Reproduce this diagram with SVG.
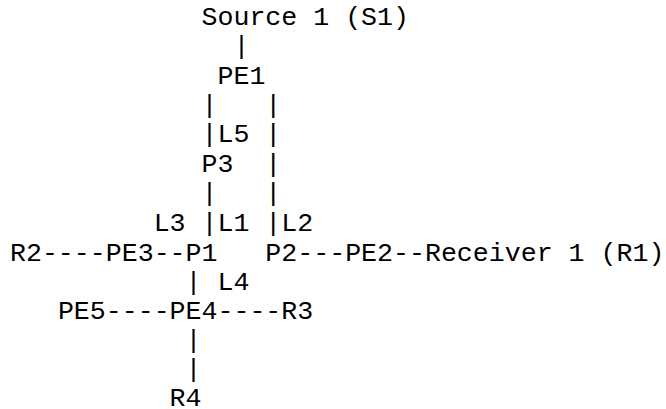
<svg xmlns="http://www.w3.org/2000/svg" width="666" height="409" viewBox="0 0 666 409">
<style>
text{font-family:"Liberation Mono","Courier New",monospace;font-size:26.6px;fill:#000;white-space:pre}
</style>
<rect width="666" height="409" fill="#fff"/>
<g id="connectors">
<text x="233.44" y="54.3">|</text>
<text x="201.52" y="112.9">|</text><text x="265.36" y="112.9">|</text>
<text x="201.52" y="142.2">|</text><text x="265.36" y="142.2">|</text>
<text x="265.36" y="171.5">|</text>
<text x="201.52" y="200.8">|</text><text x="265.36" y="200.8">|</text>
<text x="201.52" y="230.5">|</text><text x="265.36" y="230.5">|</text>
<text x="41.92" y="260.5">----</text>
<text x="153.64" y="260.5">--</text>
<text x="297.28" y="260.5">---</text>
<text x="393.04" y="260.5">--</text>
<text x="185.56" y="289.8">|</text>
<text x="105.76" y="319">----</text>
<text x="217.48" y="319">----</text>
<text x="185.56" y="348">|</text>
<text x="185.56" y="377">|</text>
<g id="labels">
<text x="217.48" y="142.2">L5</text>
<text x="153.64" y="230.5">L3</text>
<text x="217.48" y="230.5">L1</text>
<text x="281.32" y="230.5">L2</text>
<text x="217.48" y="289.8">L4</text>
</g>
</g>
<g id="S1"><text x="201.52" y="25">Source 1 (S1)</text></g>
<g id="PE1"><text x="217.48" y="83.6">PE1</text></g>
<g id="P3"><text x="201.52" y="171.5">P3</text></g>
<g id="R2"><text x="10" y="260.5">R2</text></g>
<g id="PE3"><text x="105.76" y="260.5">PE3</text></g>
<g id="P1"><text x="185.56" y="260.5">P1</text></g>
<g id="P2"><text x="265.36" y="260.5">P2</text></g>
<g id="PE2"><text x="345.16" y="260.5">PE2</text></g>
<g id="R1"><text x="424.96" y="260.5">Receiver 1 (R1)</text></g>
<g id="PE5"><text x="57.88" y="319">PE5</text></g>
<g id="PE4"><text x="169.6" y="319">PE4</text></g>
<g id="R3"><text x="281.32" y="319">R3</text></g>
<g id="R4"><text x="169.6" y="405.5">R4</text></g>
</svg>
